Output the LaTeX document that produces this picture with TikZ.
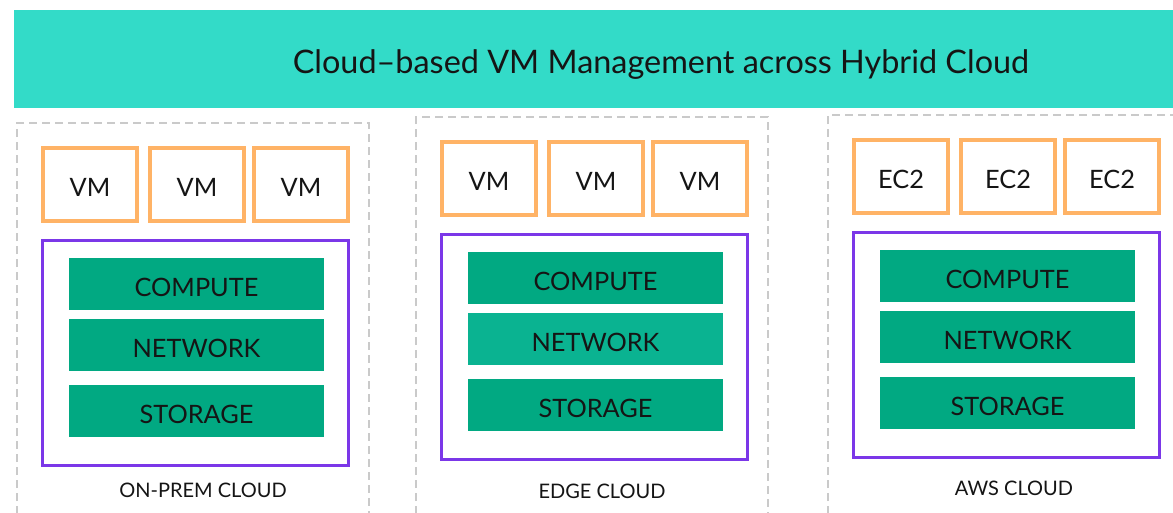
\documentclass[tikz,border=0pt]{standalone}
\usepackage{fontspec}
\setmainfont{Lato}
\usepackage{xcolor}
\usepackage{tikz}
\usetikzlibrary{
  positioning
}

\definecolor{bannerteal}{HTML}{33DBC8}
\definecolor{vmorange}{HTML}{FFB366}
\definecolor{hostpurple}{HTML}{7B37E8}
\definecolor{resgreen}{HTML}{01A982}
\definecolor{resgreenlt}{HTML}{0AB391}
\definecolor{framegray}{HTML}{CACACA}
\definecolor{inkblack}{HTML}{151515}

\begin{document}
\begin{tikzpicture}[
  x=0.75pt, y=-0.75pt,
  every node/.style={text=inkblack, inner sep=0pt},
  vmbox/.style={draw=vmorange, line width=3pt, fill=white,
    minimum width=70.5pt, minimum height=54.75pt,
    text height=18pt, text depth=0pt, font=\fontsize{19}{22}\selectfont},
  hostbox/.style={draw=hostpurple, line width=2.4pt,
    minimum width=229.8pt, minimum height=169pt},
  resbar/.style={minimum width=191.25pt, minimum height=39pt,
    text height=18pt, text depth=0pt, font=\fontsize{19}{22}\selectfont},
  cloudlab/.style={anchor=base, font=\fontsize{15}{17}\selectfont},
  frame/.style={draw=framegray, line width=1.5pt, dash pattern=on 6pt off 3.75pt}
]
  % canvas
  \fill[white] (0,0) rectangle (1173,512);
  \useasboundingbox (0,0) rectangle (1173,512);

  % title banner
  \node[fill=bannerteal, minimum width=873pt, minimum height=73.5pt, anchor=north west]
    (banner) at (14,10) {};
  \node[anchor=base, font=\fontsize{24.3}{28}\selectfont] (title) at (661,73)
    {Cloud–based VM Management across Hybrid Cloud};

  % one panel per cloud: origin = top left of the purple host box
  \foreach \ox/\oy/\ly/\vm/\lab/\id/\netcol in {
      41/239/497/VM/ON-PREM CLOUD/onprem/resgreen,
      440/233/498/VM/EDGE CLOUD/edge/resgreenlt,
      852/231/495/EC2/AWS CLOUD/aws/resgreen}{
    \draw[frame] (\ox-24,540) -- (\ox-24,\oy-116) -- (\ox+328,\oy-116) -- (\ox+328,540);

    \node[vmbox] (\id-vm1) at (\ox+49,\oy-55) {\vm};
    \node[vmbox] (\id-vm2) at (\ox+156,\oy-55) {\vm};
    \node[vmbox] (\id-vm3) at (\ox+260,\oy-55) {\vm};

    \node[hostbox] (\id-host) at (\ox+154.5,\oy+114) {};
    \node[resbar, fill=resgreen] (\id-compute) at (\ox+155.5,\oy+45) {COMPUTE};
    \node[resbar, fill=\netcol] (\id-network) at (\ox+155.5,\oy+106) {NETWORK};
    \node[resbar, fill=resgreen] (\id-storage) at (\ox+155.5,\oy+172) {STORAGE};

    \node[cloudlab] (\id-label) at (\ox+162,\ly) {\lab};
  }

\end{tikzpicture}
\end{document}
